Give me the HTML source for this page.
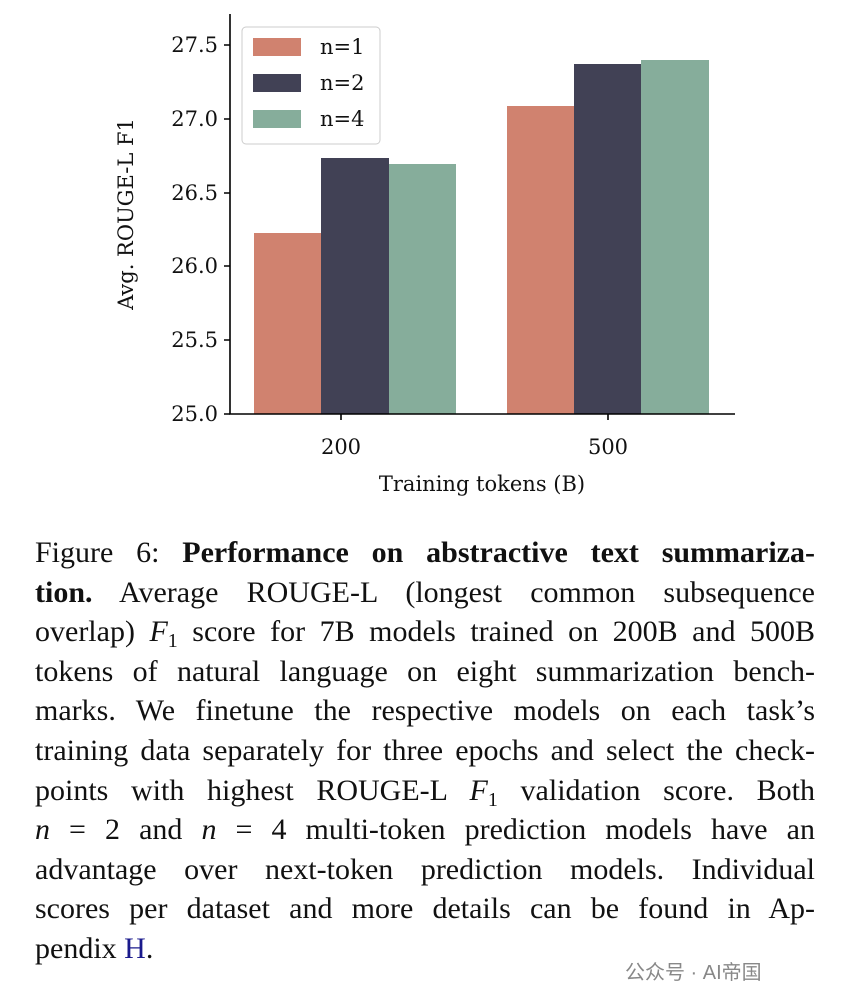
<!DOCTYPE html>
<html><head><meta charset="utf-8"><style>
body{margin:0;background:#fff;width:850px;height:1002px;overflow:hidden;position:relative}
svg{position:absolute;left:0;top:0}
.cap{position:absolute;left:35px;top:533px;width:780px;font-family:"Liberation Serif",serif;font-size:30px;line-height:39.6px;color:#111}
.cap p{margin:0;height:39.6px;white-space:nowrap;text-align:justify;text-align-last:justify}
.cap p.last{text-align-last:left}
i{font-style:italic}
sub{font-size:20px;line-height:0;vertical-align:baseline;position:relative;top:6px}
.wm{position:absolute;left:625px;top:956px;font-family:"Liberation Sans","Noto Sans CJK SC",sans-serif;font-size:20px;color:#888}
</style></head><body>
<svg width="850" height="530" font-family="'DejaVu Serif',serif">
<g fill="#d0826f"><rect x="254" y="233" width="67" height="181"/><rect x="507" y="106" width="67" height="308"/></g>
<g fill="#414155"><rect x="321" y="158" width="68" height="256"/><rect x="574" y="64" width="67" height="350"/></g>
<g fill="#86ad9b"><rect x="389" y="164" width="67" height="250"/><rect x="641" y="60" width="68" height="354"/></g>
<g stroke="#000" stroke-width="1.6" fill="none"><path d="M230 14V414H735"/>
<path d="M224 414H230M224 340H230M224 266H230M224 193H230M224 119H230M224 45H230M341 414V420M608 414V420"/></g>
<g font-size="21" text-anchor="end" fill="#111"><text x="218" y="421">25.0</text><text x="218" y="347">25.5</text><text x="218" y="273">26.0</text><text x="218" y="200">26.5</text><text x="218" y="126">27.0</text><text x="218" y="52">27.5</text></g>
<g font-size="21" text-anchor="middle" fill="#111"><text x="341" y="454">200</text><text x="608" y="454">500</text><text x="482" y="491">Training tokens (B)</text></g>
<text transform="translate(133,214) rotate(-90)" font-size="21" text-anchor="middle" fill="#111">Avg. ROUGE-L F1</text>
<rect x="242" y="27" width="138" height="117" rx="4" fill="#fff" stroke="#ccc"/>
<rect x="253" y="38" width="48" height="18" fill="#d0826f"/><rect x="253" y="74" width="48" height="18" fill="#414155"/><rect x="253" y="110" width="48" height="18" fill="#86ad9b"/>
<g font-size="21" fill="#111"><text x="320" y="54">n=1</text><text x="320" y="90">n=2</text><text x="320" y="126">n=4</text></g>
</svg>
<div class="cap">
<p>Figure 6: <b>Performance on abstractive text summariza-</b></p>
<p><b>tion.</b> Average ROUGE-L (longest common subsequence</p>
<p>overlap) <i>F</i><sub>1</sub> score for 7B models trained on 200B and 500B</p>
<p>tokens of natural language on eight summarization bench-</p>
<p>marks. We finetune the respective models on each task’s</p>
<p>training data separately for three epochs and select the check-</p>
<p>points with highest ROUGE-L <i>F</i><sub>1</sub> validation score. Both</p>
<p><i>n</i> = 2 and <i>n</i> = 4 multi-token prediction models have an</p>
<p>advantage over next-token prediction models. Individual</p>
<p>scores per dataset and more details can be found in Ap-</p>
<p class="last">pendix <span style="color:#1a1a8c">H</span>.</p>
</div>
<div class="wm">公众号 · AI帝国</div>
</body></html>
